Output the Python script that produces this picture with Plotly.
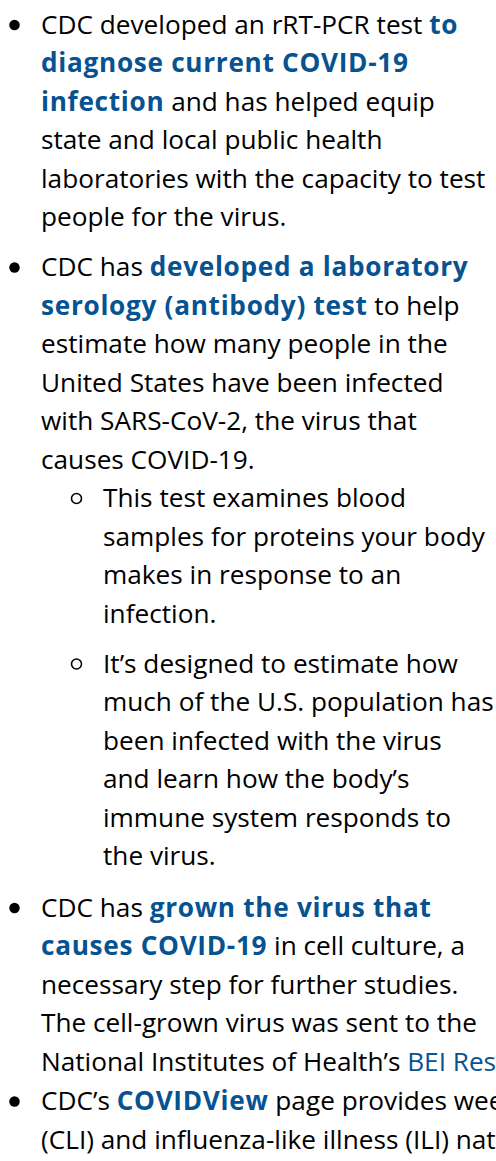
import plotly.graph_objects as go

# ---- content (markup: **bold link**, [[plain link]]) ----
item1_lines = [
    "CDC developed an rRT-PCR test **to**",
    "**diagnose current COVID-19**",
    "**infection** and has helped equip",
    "state and local public health",
    "laboratories with the capacity to test",
    "people for the virus.",
]
item2_lines = [
    "CDC has **developed a laboratory**",
    "**serology (antibody) test** to help",
    "estimate how many people in the",
    "United States have been infected",
    "with SARS-CoV-2, the virus that",
    "causes COVID-19.",
]
item2_sub1_lines = [
    "This test examines blood",
    "samples for proteins your body",
    "makes in response to an",
    "infection.",
]
item2_sub2_lines = [
    "It’s designed to estimate how",
    "much of the U.S. population has",
    "been infected with the virus",
    "and learn how the body’s",
    "immune system responds to",
    "the virus.",
]
item3_lines = [
    "CDC has **grown the virus that**",
    "**causes COVID-19** in cell culture, a",
    "necessary step for further studies.",
    "The cell-grown virus was sent to the",
    "National Institutes of Health’s [[BEI Resources]]",
]
item4_lines = [
    "CDC’s **COVIDView** page provides weekly",
    "(CLI) and influenza-like illness (ILI) nationally",
]

# (nesting level, lines)
list_items = [
    (0, item1_lines),
    (0, item2_lines),
    (1, item2_sub1_lines),
    (1, item2_sub2_lines),
    (0, item3_lines),
    (0, item4_lines),
]

# ---- style ----
W, H = 496, 1161
FONT = "Open Sans"
FS = 26.2
LINE_H = 38.5
FIRST_BASE = 34.0
ITEM_GAP = 11.5
GAP_AFTER_SUB = 13.0
GAP_LAST = 1.0
TEXT_X = [40, 102]
BULLET_X = [14.5, 76.5]
BULLET_DY = -9.0
TEXT_DY = -10.2
LINK = "#075290"
INK = "#000000"


def to_html(s):
    out = ""
    while s:
        i_b = s.find("**")
        i_l = s.find("[[")
        cands = [i for i in (i_b, i_l) if i >= 0]
        if not cands:
            out += s
            break
        i = min(cands)
        out += s[:i]
        if i == i_b:
            j = s.find("**", i + 2)
            out += (f"<span style='color:{LINK};font-weight:700;"
                    f"letter-spacing:0.7px'>{s[i+2:j]}</span>")
            s = s[j + 2:]
        else:
            j = s.find("]]", i + 2)
            out += f"<span style='color:{LINK}'>{s[i+2:j]}</span>"
            s = s[j + 2:]
    return out


annotations = []
bx0, by0, bx1, by1 = [], [], [], []
base = FIRST_BASE
prev_level = None
for k, (level, lines) in enumerate(list_items):
    if k > 0:
        if level == 1 and prev_level == 0:
            base += LINE_H
        elif level == 0 and prev_level == 1:
            base += LINE_H + GAP_AFTER_SUB
        elif k == len(list_items) - 1:
            base += LINE_H + GAP_LAST
        else:
            base += LINE_H + ITEM_GAP
    if level == 0:
        bx0.append(BULLET_X[0]); by0.append(base + BULLET_DY)
    else:
        bx1.append(BULLET_X[1]); by1.append(base + BULLET_DY)
    for n, line in enumerate(lines):
        if n > 0:
            base += LINE_H
        annotations.append(dict(
            x=TEXT_X[level], y=base + TEXT_DY, xref="x", yref="y",
            text=to_html(line), showarrow=False, xanchor="left", yanchor="middle",
            borderpad=0, font=dict(family=FONT, size=FS, color=INK), align="left",
        ))
    prev_level = level

fig = go.Figure()
fig.add_trace(go.Scatter(x=bx0, y=by0, mode="markers", hoverinfo="skip",
                         marker=dict(symbol="circle", size=10.5, color=INK)))
fig.add_trace(go.Scatter(x=bx1, y=by1, mode="markers", hoverinfo="skip",
                         marker=dict(symbol="circle-open", size=10, color=INK,
                                     line=dict(width=1.6, color=INK))))
fig.update_layout(
    width=W, height=H, margin=dict(l=0, r=0, t=0, b=0),
    paper_bgcolor="white", plot_bgcolor="white", showlegend=False,
    xaxis=dict(range=[0, W], visible=False, fixedrange=True),
    yaxis=dict(range=[H, 0], visible=False, fixedrange=True),
    annotations=annotations,
)
fig.write_html("out.html", config={"displayModeBar": False},
               post_script="document.body.style.margin='0';")
